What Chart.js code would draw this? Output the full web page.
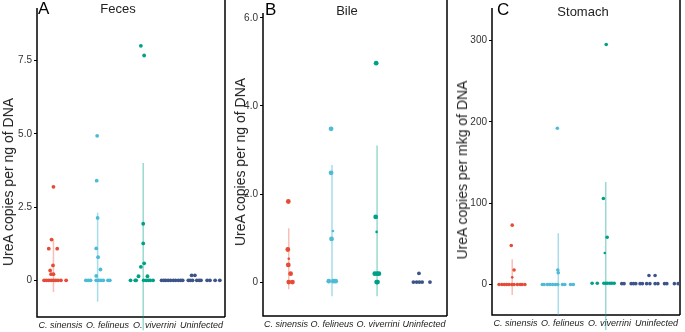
<!DOCTYPE html>
<html lang="en">
<head>
<meta charset="UTF-8">
<title>UreA copies per sample type</title>
<script src="https://cdn.jsdelivr.net/npm/chart.js"></script>
<style>
  body { margin: 0; background: #fff; font-family: "Liberation Sans", Arial, sans-serif; }
  .wrap { position: relative; width: 685px; height: 332px; overflow: hidden; }
  canvas { position: absolute; top: 0; }
  .txt { position: absolute; color: #000; white-space: nowrap; }
  .letter { font-size: 17px; line-height: 17px; }
  .ttl { font-size: 13px; line-height: 13px; color: #222; transform: translateX(-50%); }
  .ytitle { font-size: 14px; color: #222; transform: translate(-50%, -50%) rotate(-90deg); }
</style>
</head>
<body>
<div class="wrap">
  <canvas id="cA" style="left:0px" width="232" height="332"></canvas>
  <canvas id="cB" style="left:232px" width="222" height="332"></canvas>
  <canvas id="cC" style="left:454px" width="231" height="332"></canvas>

  <div class="txt letter" style="left:38px; top:0px">A</div>
  <div class="txt letter" style="left:265px; top:1px">B</div>
  <div class="txt letter" style="left:497px; top:1px">C</div>
  <div class="txt ttl" style="left:118px; top:2px">Feces</div>
  <div class="txt ttl" style="left:347px; top:4px">Bile</div>
  <div class="txt ttl" style="left:583px; top:5px">Stomach</div>
  <div class="txt ytitle" style="left:8px; top:182px">UreA copies per ng of DNA</div>
  <div class="txt ytitle" style="left:240px; top:162px">UreA copies per ng of DNA</div>
  <div class="txt ytitle" style="left:462px; top:170px">UreA copies per mkg of DNA</div>
</div>

<script>
  const categories = ['C. sinensis', 'O. felineus', 'O. viverrini', 'Uninfected'];
  const colors = ['#E64B35', '#4DBBD5', '#00A087', '#3C5488'];
  const barColors = ['rgba(230,75,53,0.35)', 'rgba(77,187,213,0.5)', 'rgba(0,160,135,0.4)'];

  // A - Feces
  const fecesTicks = [0, 2.5, 5, 7.5];
  const fecesTickLabels = ['0', '2.5', '5.0', '7.5'];
  const fecesCsin = [3.19, 1.39, 1.08, 1.08, 0.51, 0.34, 0.21, 0.21, 0, 0, 0, 0, 0, 0, 0, 0, 0];
  const fecesCsinJit = [-0.15, -0.19, -0.25, -0.07, -0.16, -0.22, -0.20, -0.15, -0.35, -0.30, -0.25, -0.20, -0.15, -0.10, -0.05, 0.01, 0.12];
  const fecesFel = [4.93, 3.40, 2.13, 1.09, 0.79, 0.37, 0.15, 0, 0, 0, 0, 0, 0, 0, 0, 0];
  const fecesFelJit = [-0.22, -0.23, -0.21, -0.24, -0.20, -0.15, -0.24, -0.46, -0.41, -0.36, -0.24, -0.19, -0.14, -0.09, 0.01, 0.05];
  const fecesViv = [8.0, 7.67, 1.93, 1.26, 0.58, 0.46, 0.14, 0.14, 0, 0, 0, 0, 0, 0, 0, 0];
  const fecesVivJit = [-0.29, -0.22, -0.24, -0.24, -0.22, -0.29, -0.34, -0.15, -0.51, -0.41, -0.39, -0.23, -0.18, -0.13, -0.09, -0.03];
  const fecesUnin = [0.17, 0.17, 0, 0, 0, 0, 0, 0, 0, 0, 0, 0, 0, 0, 0, 0, 0, 0, 0, 0, 0, 0];
  const fecesUninJit = [-0.21, -0.14, -0.85, -0.80, -0.76, -0.71, -0.66, -0.60, -0.55, -0.49, -0.44, -0.40, -0.28, -0.24, -0.19, -0.10, -0.05, -0.01, 0.12, 0.18, 0.29, 0.39];
  const fecesErrLo = [-0.4, -0.73, -1.7];
  const fecesErrHi = [1.4, 2.31, 4.0];
  const fecesErrJit = [-0.15, -0.21, -0.24];

  // B - Bile
  const bileTicks = [0, 2, 4, 6];
  const bileTickLabels = ['0', '2.0', '4.0', '6.0'];
  const bileCsin = [1.83, 0.74, 0.53, 0.39, 0.19, 0, 0];
  const bileCsinJit = [0.05, 0.04, 0.06, 0.05, 0.10, 0.06, 0.14];
  const bileCsinR = [2.4, 2.4, 1.3, 2.4, 2.4, 2.4, 2.4];
  const bileFel = [3.48, 2.48, 1.16, 0.98, 0.02, 0.02, 0.02];
  const bileFelJit = [-0.02, -0.02, 0.02, -0.01, -0.07, 0.03, 0.08];
  const bileFelR = [2.4, 2.4, 1.3, 2.4, 2.4, 2.4, 2.4];
  const bileViv = [4.97, 1.48, 1.14, 0.19, 0.19, 0.19, 0, 0];
  const bileVivJit = [-0.04, -0.05, -0.03, -0.07, -0.02, 0.02, -0.03, -0.01];
  const bileVivR = [2.4, 2.4, 1.3, 2.4, 2.4, 2.4, 2.4, 2.4];
  const bileUnin = [0.2, 0, 0, 0, 0, 0];
  const bileUninJit = [-0.11, -0.23, -0.16, -0.10, -0.04, 0.13];
  const bileErrLo = [-0.16, -0.32, -0.32];
  const bileErrHi = [1.22, 2.66, 3.10];
  const bileErrJit = [0.06, 0, -0.02];

  // C - Stomach
  const stomTicks = [0, 100, 200, 300];
  const stomTickLabels = ['0', '100', '200', '300'];
  const stomCsin = [72.9, 48, 17.8, 8.8, 0, 0, 0, 0, 0, 0, 0, 0, 0, 0, 0];
  const stomCsinJit = [-0.07, -0.09, -0.03, -0.07, -0.35, -0.29, -0.24, -0.19, -0.14, -0.08, -0.03, 0.04, 0.10, 0.14, 0.20];
  const stomFel = [192, 17.8, 14.5, 0, 0, 0, 0, 0, 0, 0, 0, 0, 0, 0];
  const stomFelJit = [-0.11, -0.10, -0.09, -0.43, -0.39, -0.32, -0.27, -0.21, -0.15, -0.10, 0.00, 0.05, 0.17, 0.23];
  const stomViv = [295, 105.6, 58, 38.7, 1.5, 1.5, 1.5, 1.5, 1.5, 1.5, 1.5, 1.5];
  const stomVivJit = [-0.07, -0.13, -0.05, -0.10, -0.37, -0.26, -0.12, -0.08, -0.04, 0.01, 0.05, 0.10];
  const stomUnin = [11, 11, 1, 1, 1, 1, 1, 1, 1, 1, 1, 1, 1, 1, 1, 1, 1];
  const stomUninJit = [-0.16, -0.03, -0.74, -0.69, -0.54, -0.49, -0.44, -0.35, -0.30, -0.21, -0.14, -0.03, 0.03, 0.17, 0.22, 0.38, 0.46];
  const stomErrLo = [-13, -37.5, -56];
  const stomErrHi = [31, 63, 126];
  const stomErrJit = [-0.07, -0.09, -0.08];

  function pointSet(values, jit, idx, radius) {
    return {
      data: values.map((v, i) => ({ x: idx + 1 + jit[i], y: v })),
      backgroundColor: colors[idx],
      borderWidth: 0,
      pointRadius: radius,
      pointHoverRadius: radius
    };
  }

  function errSets(lo, hi, jit) {
    return lo.map((l, i) => ({
      type: 'line',
      data: [{ x: i + 1 + jit[i], y: l }, { x: i + 1 + jit[i], y: hi[i] }],
      borderColor: barColors[i],
      borderWidth: 1.5,
      pointRadius: 0,
      clip: false
    }));
  }

  // left + bottom axis lines and the right edge of each panel
  const framePlugin = {
    id: 'frame',
    beforeDatasetsDraw(chart) {
      const { ctx, chartArea: a } = chart;
      ctx.save();
      ctx.strokeStyle = '#000';
      ctx.lineWidth = 1.5;
      ctx.beginPath();
      ctx.moveTo(a.left, a.top);
      ctx.lineTo(a.left, a.bottom);
      ctx.lineTo(a.right, a.bottom);
      ctx.moveTo(a.right, 0);
      ctx.lineTo(a.right, a.bottom);
      ctx.stroke();
      ctx.restore();
    }
  };

  function makePanel(id, datasets, p) {
    new Chart(document.getElementById(id), {
      type: 'scatter',
      data: { datasets: datasets },
      plugins: [framePlugin],
      options: {
        responsive: false,
        animation: false,
        layout: { padding: { left: 0, right: p.padRight, top: p.top, bottom: 0 } },
        plugins: { legend: { display: false }, tooltip: { enabled: false } },
        scales: {
          x: {
            type: 'linear', min: 0.5, max: 4.5,
            afterBuildTicks: s => { s.ticks = categories.map((c, i) => ({ value: i + 1 })); },
            afterFit: s => { s.height = p.xHeight; },
            ticks: {
              callback: v => categories[v - 1],
              color: '#222', padding: 3, maxRotation: 0, autoSkip: false,
              font: { family: 'Liberation Sans', size: 9, style: 'italic' }
            },
            grid: { display: false, drawTicks: false, tickLength: 0 },
            border: { display: false }
          },
          y: {
            min: p.yMin, max: p.yMax,
            afterBuildTicks: s => { s.ticks = p.ticks.map(v => ({ value: v })); },
            afterFit: s => { s.width = p.axisW; },
            ticks: {
              callback: (v, i) => p.labels[i],
              color: '#333', padding: 2,
              font: { family: 'Liberation Sans', size: 10 }
            },
            grid: { display: true, drawOnChartArea: false, drawTicks: true, tickLength: 3, color: '#000' },
            border: { display: false }
          }
        }
      }
    });
  }

  makePanel('cA', [
    pointSet(fecesCsin, fecesCsinJit, 0, 1.9),
    pointSet(fecesFel, fecesFelJit, 1, 1.9),
    pointSet(fecesViv, fecesVivJit, 2, 1.9),
    pointSet(fecesUnin, fecesUninJit, 3, 1.9),
    ...errSets(fecesErrLo, fecesErrHi, fecesErrJit)
  ], { yMin: -1.25, yMax: 9.29, ticks: fecesTicks, labels: fecesTickLabels, axisW: 37, padRight: 7, top: 5, xHeight: 15 });

  makePanel('cB', [
    pointSet(bileCsin, bileCsinJit, 0, bileCsinR),
    pointSet(bileFel, bileFelJit, 1, bileFelR),
    pointSet(bileViv, bileVivJit, 2, bileVivR),
    pointSet(bileUnin, bileUninJit, 3, 1.9),
    ...errSets(bileErrLo, bileErrHi, bileErrJit)
  ], { yMin: -0.77, yMax: 6.11, ticks: bileTicks, labels: bileTickLabels, axisW: 31, padRight: 7, top: 13, xHeight: 16 });

  makePanel('cC', [
    pointSet(stomCsin, stomCsinJit, 0, stomCsin.map(v => v === 8.8 ? 1.3 : 1.8)),
    pointSet(stomFel, stomFelJit, 1, 1.8),
    pointSet(stomViv, stomVivJit, 2, stomViv.map(v => v === 38.7 ? 1.3 : 1.8)),
    pointSet(stomUnin, stomUninJit, 3, 1.8),
    ...errSets(stomErrLo, stomErrHi, stomErrJit)
  ], { yMin: -37.5, yMax: 339.8, ticks: stomTicks, labels: stomTickLabels, axisW: 38, padRight: 5, top: 3, xHeight: 17 });
</script>
</body>
</html>
